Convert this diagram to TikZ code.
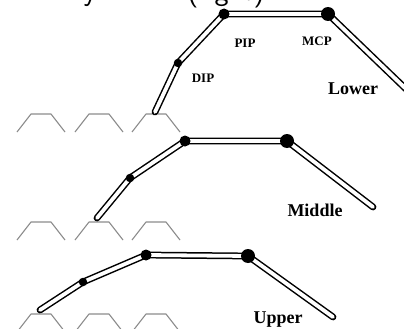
\documentclass[tikz,border=0pt]{standalone}
\usepackage{fontspec}
\newfontfamily\labelfont{Liberation Serif}
\begin{document}
\begin{tikzpicture}[x=1pt,y=-1pt,
  rod/.style={line width=1.5pt, double=white, double distance=3.8pt, line cap=round, line join=round},
  joint/.style={circle, fill=black, inner sep=0pt},
  bump/.style={draw=black!45, line width=1.1pt, line join=round},
  jointlabel/.style={font=\labelfont\bfseries\fontsize{13}{13}\selectfont},
  rowlabel/.style={font=\labelfont\bfseries\fontsize{18}{18}\selectfont},
  caption/.style={font=\sffamily\fontsize{30}{30}\selectfont, inner sep=0pt}]
\useasboundingbox (0,0) rectangle (404,329);
\clip (0,0) rectangle (404,329);

% caption line above the figure (only its lowest part lies inside)
\node[caption, anchor=base] (capy) at (90,1) {y};
\node[caption, anchor=base] (capr) at (226,1) {(right)};

% key rows
\foreach \ry in {114,222,314}
  \foreach \kx in {17,75,132}
    \draw[bump] (\kx,\ry+18) -- (\kx+14,\ry) -- (\kx+34,\ry) -- (\kx+48,\ry+18);

% joint positions: lower, middle, upper finger
\coordinate (Ltip) at (155,112);
\coordinate (Ldip) at (178,63);
\coordinate (Lpip) at (224,14);
\coordinate (Lmcp) at (328,14);
\coordinate (Lbase) at (406,89);

\coordinate (Mtip) at (97,218);
\coordinate (Mdip) at (130,178);
\coordinate (Mpip) at (185,141);
\coordinate (Mmcp) at (287,141);
\coordinate (Mbase) at (373,207);

\coordinate (Utip) at (40,310);
\coordinate (Udip) at (83,282);
\coordinate (Upip) at (146,255);
\coordinate (Umcp) at (248,256);
\coordinate (Ubase) at (333,317);

% finger segments
\foreach \f in {L,M,U}
  \draw[rod] (\f tip) -- (\f dip) -- (\f pip) -- (\f mcp) -- (\f base);

% joints
\foreach \f in {L,M,U} {
  \node[joint, minimum size=8.5pt] (\f dipj) at (\f dip) {};
  \node[joint, minimum size=11pt] (\f pipj) at (\f pip) {};
  \node[joint, minimum size=14pt] (\f mcpj) at (\f mcp) {};
}

% labels
\node[jointlabel] (lpip) at (245,43) {PIP};
\node[jointlabel] (lmcp) at (317,41) {MCP};
\node[jointlabel] (ldip) at (203,78) {DIP};
\node[rowlabel] (lower) at (353,89) {Lower};
\node[rowlabel] (middle) at (315,210) {Middle};
\node[rowlabel] (upper) at (278,320) {Upper};
\end{tikzpicture}
\end{document}
